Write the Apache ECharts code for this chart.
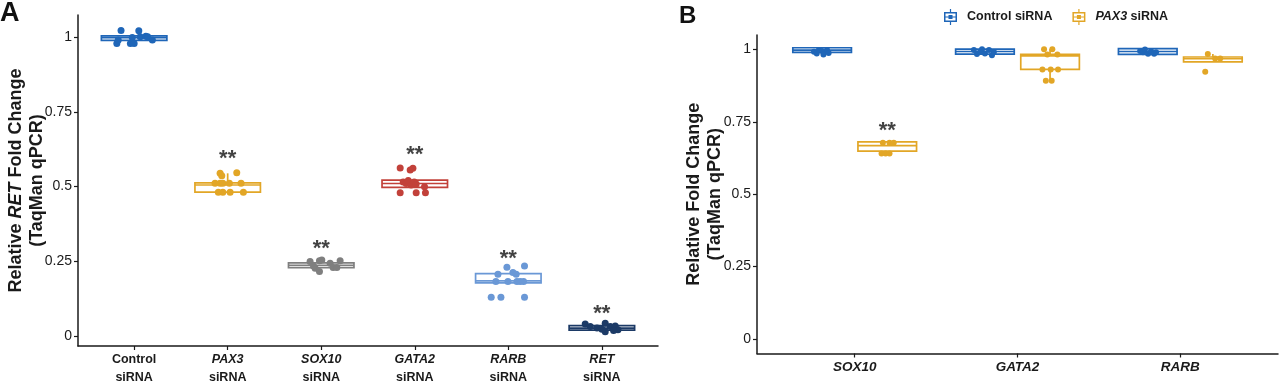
<!DOCTYPE html>
<html>
<head>
<meta charset="utf-8">
<script src="https://cdn.jsdelivr.net/npm/echarts@6/dist/echarts.min.js"></script>
<style>
  html, body { margin: 0; padding: 0; background: #fff; }
  #chart { width: 1280px; height: 384px; }
</style>
</head>
<body>
<div id="chart"></div>
<script>
// ---- panel A: RET knockdown ----
const catsA = ['Control', 'PAX3', 'SOX10', 'GATA2', 'RARB', 'RET'];
const italicA = [false, true, true, true, true, true];
const colorsA = ['#1F66B8', '#E2A626', '#7F7F7F', '#C2413A', '#6A98D6', '#1C3A66'];
// [whisker low, Q1, median, Q3, whisker high]
const boxA = [
  [0.989, 0.989, 0.998, 1.004, 1.004],
  [0.481, 0.481, 0.505, 0.512, 0.544],
  [0.228, 0.228, 0.236, 0.244, 0.244],
  [0.497, 0.497, 0.510, 0.521, 0.521],
  [0.177, 0.177, 0.184, 0.208, 0.208],
  [0.019, 0.019, 0.026, 0.034, 0.034]
];
const ctrlVals = [1.022, 1.021, 0.979, 0.990, 0.979, 0.979, 0.999, 1.001, 1.003, 1.001, 0.990];
const ctrlJit = [-0.14, 0.05, -0.185, -0.17, -0.04, 0, -0.02, 0.065, 0.125, 0.145, 0.195];
const pax3Vals = [0.544, 0.536, 0.546, 0.511, 0.511, 0.511, 0.511, 0.511, 0.481, 0.481, 0.481, 0.481];
const pax3Jit = [-0.081, -0.063, 0.097, -0.135, -0.081, -0.052, 0.018, 0.143, -0.1, -0.052, 0.026, 0.168];
const sox10Vals = [0.249, 0.251, 0.226, 0.215, 0.234, 0.254, 0.243, 0.229, 0.251, 0.229];
const sox10Jit = [-0.119, -0.019, -0.065, -0.019, -0.083, 0.006, 0.095, 0.127, 0.202, 0.167];
const gata2Vals = [0.562, 0.555, 0.561, 0.515, 0.510, 0.520, 0.505, 0.515, 0.508, 0.499, 0.479, 0.479, 0.479];
const gata2Jit = [-0.156, -0.049, -0.02, -0.124, -0.092, -0.07, -0.039, -0.006, 0.015, 0.104, -0.156, 0.015, 0.114];
const rarbVals = [0.230, 0.212, 0.206, 0.234, 0.182, 0.182, 0.182, 0.182, 0.182, 0.206, 0.129, 0.129, 0.129];
const rarbJit = [-0.015, 0.049, 0.084, 0.173, -0.133, -0.004, 0.092, 0.127, 0.163, -0.111, -0.183, -0.079, 0.173];
const retVals = [0.040, 0.026, 0.042, 0.014, 0.031, 0.033, 0.020, 0.031, 0.022, 0.018];
const retJit = [-0.178, -0.052, 0.036, 0.036, 0.09, 0.143, 0.172, -0.124, 0.001, 0.125];
const starA = [null, 0.605, 0.304, 0.619, 0.271, 0.087];

// ---- panel B: PAX3 knockdown ----
const catsB = ['SOX10', 'GATA2', 'RARB'];
const boxCtrlB = [
  [0.990, 0.990, 0.998, 1.006, 1.006],
  [0.984, 0.984, 0.993, 1.001, 1.001],
  [0.983, 0.983, 0.993, 1.003, 1.003]
];
const boxPax3B = [
  [0.649, 0.649, 0.668, 0.681, 0.681],
  [0.894, 0.931, 0.978, 0.983, 1.001],
  [0.957, 0.957, 0.968, 0.974, 0.984]
];
const ctrlBVals = [
  [0.992, 0.986, 0.995, 0.983, 0.998, 0.988, 0.998],
  [0.998, 0.984, 1.001, 0.986, 0.998, 0.980, 0.991, 0.991],
  [0.995, 0.990, 1.000, 0.985, 0.995, 0.985, 0.990]
];
const ctrlBJit = [
  [-0.05, -0.033, 0, 0.008, 0.03, 0.04, -0.02],
  [-0.068, -0.049, -0.018, 0, 0.025, 0.043, 0.055, -0.03],
  [-0.047, -0.029, -0.017, 0.002, 0.02, 0.039, 0.051]
];
const pax3BVals = [
  [0.678, 0.678, 0.678, 0.641, 0.641, 0.641],
  [1.001, 1.001, 0.983, 0.983, 0.931, 0.931, 0.931, 0.892, 0.892],
  [0.984, 0.969, 0.969, 0.923]
];
const pax3BJit = [
  [-0.027, 0.014, 0.04, -0.035, -0.01, 0.014],
  [-0.037, 0.014, -0.017, 0.045, -0.047, 0.004, 0.049, -0.026, 0.01],
  [-0.031, 0.014, 0.045, -0.047]
];
const starB = [0.733, null, null];

const ticksY = [0, 0.25, 0.5, 0.75, 1];

const FONT = "'Liberation Sans', Arial, sans-serif";
const INK = '#1a1a1a';
const DODGE = 0.2;

function boxRender(width) {
  return function (params, api) {
    const x = api.value(0);
    const color = api.visual('color');
    const lo = api.coord([x, api.value(1)]);
    const q1 = api.coord([x, api.value(2)]);
    const md = api.coord([x, api.value(3)]);
    const q3 = api.coord([x, api.value(4)]);
    const hi = api.coord([x, api.value(5)]);
    const w = api.size([width, 0])[0];
    const cx = q1[0];
    const line = { stroke: color, lineWidth: 1.7 };
    return {
      type: 'group',
      children: [
        { type: 'line', shape: { x1: cx, y1: q3[1], x2: cx, y2: hi[1] }, style: line },
        { type: 'line', shape: { x1: cx, y1: q1[1], x2: cx, y2: lo[1] }, style: line },
        { type: 'rect', shape: { x: cx - w / 2, y: q3[1], width: w, height: q1[1] - q3[1] },
          style: { stroke: color, lineWidth: 1.7, fill: '#fff' } },
        { type: 'line', shape: { x1: cx - w / 2, y1: md[1], x2: cx + w / 2, y2: md[1] }, style: line }
      ]
    };
  };
}

const valsA = [ctrlVals, pax3Vals, sox10Vals, gata2Vals, rarbVals, retVals];
const jitA = [ctrlJit, pax3Jit, sox10Jit, gata2Jit, rarbJit, retJit];

function yAxisCommon(gridIndex, min, max, name, gap) {
  return {
    gridIndex, type: 'value', min, max,
    axisLine: { show: true, onZero: false, lineStyle: { color: INK, width: 1.5 } },
    axisTick: { show: true, length: 4, customValues: ticksY, lineStyle: { color: INK, width: 1.2 } },
    axisLabel: { customValues: ticksY, margin: 6, fontSize: 14, color: INK, fontFamily: FONT },
    splitLine: { show: false },
    name, nameLocation: 'middle', nameRotate: 90, nameGap: gap, nameMoveOverlap: false,
    nameTextStyle: {
      fontFamily: FONT, fontSize: 18, fontWeight: 'bold', color: INK, lineHeight: 21,
      rich: {
        b: { fontFamily: FONT, fontSize: 18, fontWeight: 'bold', color: INK, lineHeight: 21 },
        i: { fontFamily: FONT, fontSize: 18, fontWeight: 'bold', fontStyle: 'italic', color: INK, lineHeight: 21 }
      }
    }
  };
}

const labelRich = {
  b: { fontFamily: FONT, fontSize: 12.5, fontWeight: 'bold', color: INK, lineHeight: 18 },
  i: { fontFamily: FONT, fontSize: 12.5, fontWeight: 'bold', fontStyle: 'italic', color: INK, lineHeight: 18 }
};
const labelRichB = {
  i: { fontFamily: FONT, fontSize: 13.5, fontWeight: 'bold', fontStyle: 'italic', color: INK, lineHeight: 18 }
};

const legendIcon = 'path://M0,3 H13 V13 H0 Z M1.5,4.5 V11.5 H11.5 V4.5 Z M1.5,7.4 H11.5 V8.6 H1.5 Z M4.5,6 H8.5 V10 H4.5 Z M5.9,0 H7.1 V3 H5.9 Z M5.9,13 H7.1 V16 H5.9 Z';

const starLabel = {
  show: true, position: 'inside', formatter: '**', fontSize: 22, fontWeight: 'bold',
  color: '#111', fontFamily: FONT, offset: [0, 4]
};

const series = [];

series.push({
  type: 'custom', name: 'boxA', xAxisIndex: 0, yAxisIndex: 0, z: 2,
  renderItem: boxRender(0.7),
  data: boxA.map((b, i) => ({ value: [i].concat(b), itemStyle: { color: colorsA[i] } }))
});
valsA.forEach((vals, i) => {
  series.push({
    type: 'scatter', xAxisIndex: 0, yAxisIndex: 0, z: 3, symbolSize: 7,
    itemStyle: { color: colorsA[i], opacity: 1 },
    data: vals.map((v, k) => [i + jitA[i][k], v])
  });
});
series.push({
  type: 'scatter', xAxisIndex: 0, yAxisIndex: 0, z: 4, symbolSize: 1,
  itemStyle: { color: 'rgba(0,0,0,0)' },
  label: starLabel,
  data: starA.map((v, i) => (v == null ? null : [i, v])).filter(d => d)
});

series.push({
  type: 'custom', name: 'Control siRNA', xAxisIndex: 1, yAxisIndex: 1, z: 2,
  itemStyle: { color: '#1F66B8' },
  renderItem: boxRender(0.36),
  data: boxCtrlB.map((b, i) => [i - DODGE].concat(b))
});
series.push({
  type: 'custom', name: 'PAX3 siRNA', xAxisIndex: 1, yAxisIndex: 1, z: 2,
  itemStyle: { color: '#E2A626' },
  renderItem: boxRender(0.36),
  data: boxPax3B.map((b, i) => [i + DODGE].concat(b))
});
series.push({
  type: 'scatter', xAxisIndex: 1, yAxisIndex: 1, z: 3, symbolSize: 6,
  itemStyle: { color: '#1F66B8', opacity: 1 },
  data: [].concat(...ctrlBVals.map((vals, i) => vals.map((v, k) => [i - DODGE + ctrlBJit[i][k], v])))
});
series.push({
  type: 'scatter', xAxisIndex: 1, yAxisIndex: 1, z: 3, symbolSize: 6,
  itemStyle: { color: '#E2A626', opacity: 1 },
  data: [].concat(...pax3BVals.map((vals, i) => vals.map((v, k) => [i + DODGE + pax3BJit[i][k], v])))
});
series.push({
  type: 'scatter', xAxisIndex: 1, yAxisIndex: 1, z: 4, symbolSize: 1,
  itemStyle: { color: 'rgba(0,0,0,0)' },
  label: starLabel,
  data: starB.map((v, i) => (v == null ? null : [i + DODGE, v])).filter(d => d)
});

const chart = echarts.init(document.getElementById('chart'));
chart.setOption({
  animation: false,
  backgroundColor: '#fff',
  title: [
    { text: 'A', left: 0, top: 0, padding: 0, textStyle: { fontFamily: FONT, fontSize: 27, fontWeight: 'bold', color: '#111' } },
    { text: 'B', left: 679, top: 4, padding: 0, textStyle: { fontFamily: FONT, fontSize: 24, fontWeight: 'bold', color: '#111' } }
  ],
  legend: {
    data: ['Control siRNA', 'PAX3 siRNA'],
    left: 939, top: 4, itemWidth: 13, itemHeight: 16, itemGap: 20,
    icon: legendIcon,
    itemStyle: { borderWidth: 0 },
    formatter: name => (name === 'PAX3 siRNA' ? '{i|PAX3} siRNA' : name),
    textStyle: {
      fontFamily: FONT, fontSize: 12.5, fontWeight: 'bold', color: INK, padding: [0, 0, 0, 5],
      rich: { i: { fontFamily: FONT, fontSize: 12.5, fontWeight: 'bold', fontStyle: 'italic', color: INK } }
    }
  },
  grid: [
    { left: 78, top: 15, width: 580, height: 331, outerBoundsMode: 'none' },
    { left: 757, top: 35, width: 521, height: 318.5, outerBoundsMode: 'none' }
  ],
  xAxis: [
    {
      gridIndex: 0, type: 'value', min: -0.6, max: 5.6,
      axisLine: { show: true, onZero: false, lineStyle: { color: INK, width: 1.5 } },
      axisTick: { show: true, length: 4, customValues: [0, 1, 2, 3, 4, 5], lineStyle: { color: INK, width: 1.2 } },
      axisLabel: {
        customValues: [0, 1, 2, 3, 4, 5], margin: 5, rich: labelRich,
        formatter: v => {
          const i = Math.round(v);
          return (italicA[i] ? '{i|' : '{b|') + catsA[i] + '}\n{b|siRNA}';
        }
      },
      splitLine: { show: false }
    },
    {
      gridIndex: 1, type: 'value', min: -0.6, max: 2.6,
      axisLine: { show: true, onZero: false, lineStyle: { color: INK, width: 1.5 } },
      axisTick: { show: true, length: 4, customValues: [0, 1, 2], lineStyle: { color: INK, width: 1.2 } },
      axisLabel: {
        customValues: [0, 1, 2], margin: 5, rich: labelRichB,
        formatter: v => '{i|' + catsB[Math.round(v)] + '}'
      },
      splitLine: { show: false }
    }
  ],
  yAxis: [
    yAxisCommon(0, -0.034, 1.074, '{b|Relative }{i|RET}{b| Fold Change}\n{b|(TaqMan qPCR)}', 30.5),
    yAxisCommon(1, -0.05, 1.05, '{b|Relative Fold Change}\n{b|(TaqMan qPCR)}', 31.5)
  ],
  series
});
</script>
</body>
</html>
